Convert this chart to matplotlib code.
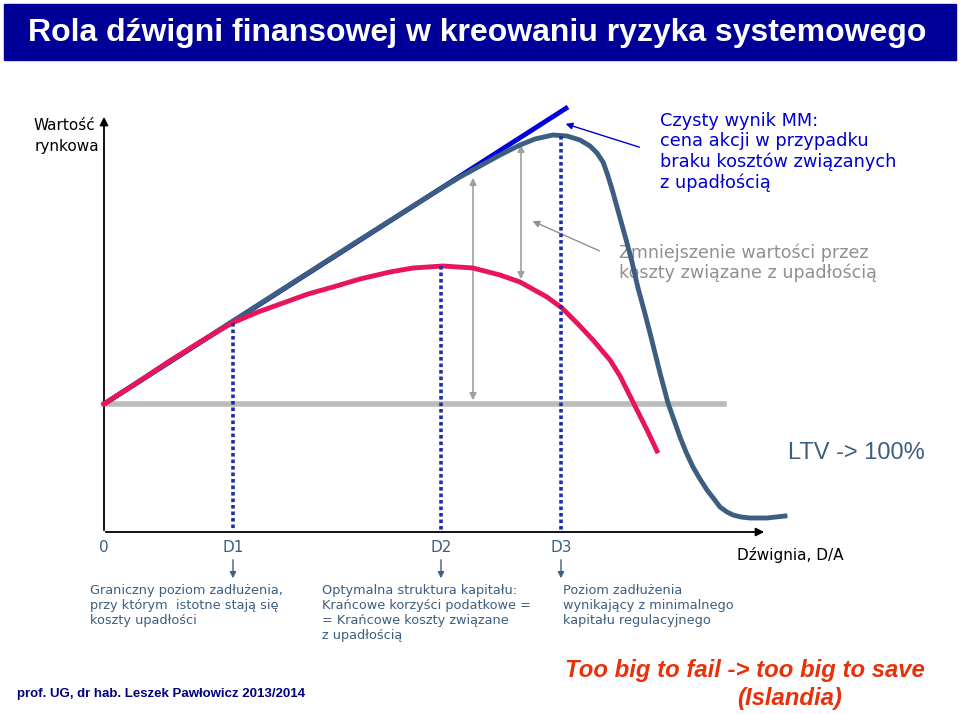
import matplotlib.pyplot as plt
from matplotlib.patches import Rectangle

# chart drawn in pixel-like units: x to the right, y downwards
# net MM result line (no bankruptcy costs)
mm_x = [104, 568]
mm_y = [404, 107]

# market value with bankruptcy costs (steel blue curve)
val_x = [104, 233, 350, 440, 460, 480, 500, 520, 535, 553, 567, 580, 590, 597, 603, 607, 612, 617,
         622, 627, 632, 638, 644, 650, 655, 660, 668, 674, 680, 686, 693, 700, 707, 714, 720, 727,
         733, 741, 750, 767, 785]
val_y = [404, 321, 246, 189, 177, 166, 155, 145, 139, 135, 136, 140, 146, 153, 162, 173, 189, 207,
         225, 243, 262, 288, 310, 333, 353, 373, 403, 420, 437, 452, 467, 479, 490, 499, 507, 512,
         515, 517, 518, 518, 516]

# second (red) curve
red_x = [104, 135, 168, 200, 232, 258, 283, 308, 333, 360, 390, 413, 443, 473, 500, 520, 547, 562,
         578, 593, 610, 620, 627, 637, 647, 657]
red_y = [404, 384, 362, 342, 323, 312, 303, 294, 287, 279, 272, 268, 266, 268, 275, 282, 297, 308,
         324, 340, 360, 376, 390, 410, 430, 451]

# reference levels
zero_y = 404
zero_x_end = 724

lev_names = ['0', 'D1', 'D2', 'D3']
lev_x = [104, 233, 441, 561]
lev_top = [None, 323, 266, 136]

notes = [
    'Graniczny poziom zadłużenia,\nprzy którym  istotne stają się\nkoszty upadłości',
    'Optymalna struktura kapitału:\nKrańcowe korzyści podatkowe =\n= Krańcowe koszty związane\nz upadłością',
    'Poziom zadłużenia\nwynikający z minimalnego\nkapitału regulacyjnego',
]
notes_x = [90, 322, 563]

steel = '#3c5e80'
navy = '#000099'

fig = plt.figure(figsize=(9.6, 7.14), dpi=100)
ax = fig.add_axes([0, 0, 1, 1])
ax.set_xlim(0, 960)
ax.set_ylim(714, 0)
ax.axis('off')

# title bar
ax.add_patch(Rectangle((4, 4), 952, 56, color=navy, zorder=1))
ax.text(477, 33, 'Rola dźwigni finansowej w kreowaniu ryzyka systemowego',
        color='white', fontsize=23, fontweight='bold', family='Liberation Sans',
        ha='center', va='center', zorder=2)

# axes with arrows
ax.annotate('', xy=(104, 114), xytext=(104, 533),
            arrowprops=dict(arrowstyle='-|>', lw=1.3, color='black', mutation_scale=12))
ax.annotate('', xy=(767, 532), xytext=(103, 532),
            arrowprops=dict(arrowstyle='-|>', lw=1.3, color='black', mutation_scale=12))
ax.text(95, 126, 'Wartość', ha='right', va='center', fontsize=11)
ax.text(99, 146, 'rynkowa', ha='right', va='center', fontsize=11)

ax.plot([104, zero_x_end], [zero_y, zero_y], color='#bbbbbb', lw=4, zorder=2)
ax.plot(mm_x, mm_y, color='#0000dd', lw=3.5, solid_capstyle='butt', zorder=3)
ax.plot(val_x, val_y, color=steel, lw=3.5, solid_joinstyle='round', zorder=4)
ax.plot(red_x, red_y, color='#e8155c', lw=3.5, solid_joinstyle='round', zorder=4)

# dotted verticals and level labels
for name, x, top in zip(lev_names, lev_x, lev_top):
    if top is not None:
        ax.plot([x, x], [top, 531], color='#1f2fa8', lw=2.6,
                linestyle=(0, (1, 0.8)), zorder=5)
        ax.annotate('', xy=(x, 581), xytext=(x, 557),
                    arrowprops=dict(arrowstyle='-|>', lw=1, color=steel, mutation_scale=9))
    ax.text(x, 548, name, ha='center', va='center', fontsize=11, color=steel)

ax.text(737, 555, 'Dźwignia, D/A', ha='left', va='center', fontsize=11, color='black')

for txt, x in zip(notes, notes_x):
    ax.text(x, 584, txt, ha='left', va='top', fontsize=9.3, color=steel, linespacing=1.2)

# gray double arrows
ax.annotate('', xy=(473, 175), xytext=(473, 403),
            arrowprops=dict(arrowstyle='<|-|>', lw=1.2, color='#a0a0a0', mutation_scale=10))
ax.annotate('', xy=(521, 142), xytext=(521, 282),
            arrowprops=dict(arrowstyle='<|-|>', lw=1.2, color='#a0a0a0', mutation_scale=10))

# annotation texts
ax.annotate('', xy=(563, 123), xytext=(642, 148),
            arrowprops=dict(arrowstyle='-|>', lw=1, color='#0000cc', mutation_scale=10))
ax.text(660, 112, 'Czysty wynik MM:\ncena akcji w przypadku\nbraku kosztów związanych\nz upadłością',
        ha='left', va='top', fontsize=12.8, color='#0000cc', linespacing=1.17)

ax.annotate('', xy=(530, 220), xytext=(602, 252),
            arrowprops=dict(arrowstyle='-|>', lw=1, color='#909090', mutation_scale=10))
ax.text(619, 243, 'Zmniejszenie wartości przez\nkoszty związane z upadłością',
        ha='left', va='top', fontsize=12.6, color='#909090', linespacing=1.15, zorder=3)

ax.text(788, 453, 'LTV -> 100%', ha='left', va='center', fontsize=17,
        family='Liberation Sans', color=steel)

ax.text(745, 670, 'Too big to fail -> too big to save', ha='center', va='center',
        fontsize=17.2, fontweight='bold', style='italic', family='Liberation Sans', color='#e8300a')
ax.text(790, 698, '(Islandia)', ha='center', va='center',
        fontsize=17.2, fontweight='bold', style='italic', family='Liberation Sans', color='#e8300a')

ax.text(17, 694, 'prof. UG, dr hab. Leszek Pawłowicz 2013/2014', ha='left', va='center',
        fontsize=9.5, fontweight='bold', family='Liberation Sans', color='#000080')

fig.savefig('out.png', dpi=100)
